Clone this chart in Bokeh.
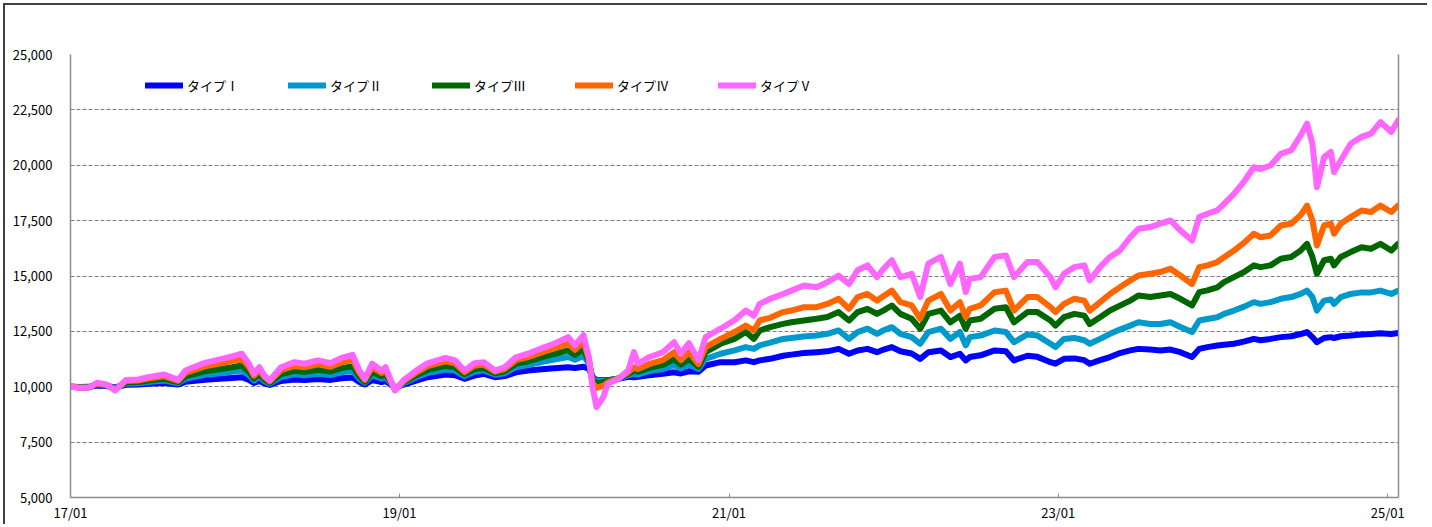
from bokeh.plotting import figure
from bokeh.models import (Range1d, LinearAxis, Legend, LegendItem, FixedTicker,
                          DatetimeTickFormatter, NumeralTickFormatter)
from bokeh.embed import file_html
from bokeh.resources import INLINE
import pandas as pd

dates = [
    "2017-01-04", "2017-01-22", "2017-02-10", "2017-03-01", "2017-03-22", "2017-04-10",
    "2017-05-04", "2017-06-01", "2017-06-22", "2017-07-28", "2017-08-28", "2017-09-13",
    "2017-10-26", "2017-11-19", "2017-12-25", "2018-01-16", "2018-02-01", "2018-02-12",
    "2018-02-24", "2018-03-07", "2018-03-19", "2018-04-13", "2018-05-13", "2018-06-04",
    "2018-07-04", "2018-08-01", "2018-08-25", "2018-09-19", "2018-10-04", "2018-10-16",
    "2018-11-01", "2018-11-22", "2018-12-01", "2018-12-22", "2019-01-10", "2019-02-07",
    "2019-03-04", "2019-04-13", "2019-05-04", "2019-05-25", "2019-06-16", "2019-07-07",
    "2019-08-01", "2019-08-22", "2019-09-16", "2019-10-13", "2019-11-19", "2019-12-10",
    "2020-01-10", "2020-01-25", "2020-02-13", "2020-02-25", "2020-03-04", "2020-03-13",
    "2020-03-28", "2020-04-07", "2020-05-01", "2020-05-22", "2020-06-04", "2020-06-13",
    "2020-07-07", "2020-08-07", "2020-09-01", "2020-09-16", "2020-10-04", "2020-10-25",
    "2020-11-10", "2020-12-13", "2021-01-13", "2021-02-07", "2021-02-25", "2021-03-10",
    "2021-04-02", "2021-05-01", "2021-05-19", "2021-06-16", "2021-07-14", "2021-08-07",
    "2021-09-01", "2021-09-24", "2021-10-13", "2021-11-04", "2021-11-25", "2021-12-10",
    "2021-12-28", "2022-01-16", "2022-02-10", "2022-03-01", "2022-03-19", "2022-04-16",
    "2022-05-07", "2022-05-28", "2022-06-10", "2022-06-19", "2022-07-13", "2022-08-13",
    "2022-09-07", "2022-09-25", "2022-10-25", "2022-11-16", "2022-12-15", "2022-12-26",
    "2023-01-14", "2023-02-06", "2023-02-28", "2023-03-12", "2023-04-04", "2023-04-26",
    "2023-05-18", "2023-06-10", "2023-06-28", "2023-07-24", "2023-08-16", "2023-09-07",
    "2023-09-29", "2023-10-25", "2023-11-10", "2023-11-28", "2023-12-20", "2024-01-04",
    "2024-01-26", "2024-02-19", "2024-03-10", "2024-03-25", "2024-04-16", "2024-05-09",
    "2024-06-01", "2024-06-22", "2024-07-06", "2024-07-18", "2024-07-28", "2024-08-13",
    "2024-08-28", "2024-09-04", "2024-09-19", "2024-10-11", "2024-11-04", "2024-11-25",
    "2024-12-16", "2025-01-09", "2025-01-24",
]

type5 = [
    10000, 9950, 9950, 10180, 10100, 9830, 10310, 10330, 10430, 10550, 10310, 10730,
    11080, 11190, 11370, 11490, 11040, 10590, 10880, 10510, 10280, 10880, 11110, 11040,
    11190, 11060, 11300, 11440, 10730, 10360, 11040, 10730, 10880, 9830, 10300, 10730,
    11060, 11300, 11190, 10730, 11060, 11110, 10730, 10880, 11330, 11490, 11790, 11940,
    12240, 11870, 12330, 11330, 9980, 9080, 9530, 10130, 10360, 10730, 11560, 11040,
    11330, 11560, 12010, 11490, 11970, 11190, 12240, 12620, 13000, 13440, 13210, 13740,
    13970, 14190, 14340, 14570, 14490, 14720, 15020, 14640, 15260, 15480, 14950, 15330,
    15710, 14950, 15100, 14050, 15560, 15860, 14640, 15560, 14270, 14870, 14950, 15860,
    15930, 14950, 15630, 15630, 14950, 14490, 15100, 15400, 15480, 14800, 15400, 15860,
    16150, 16750, 17130, 17210, 17360, 17510, 17060, 16600, 17660, 17810, 17960, 18260,
    18710, 19310, 19910, 19830, 19990, 20520, 20670, 21350, 21880, 20970, 19010, 20370,
    20600, 19690, 20220, 20970, 21280, 21430, 21950, 21500, 22020,
]

type4 = [
    10000, 9960, 9960, 10150, 10080, 9870, 10260, 10280, 10370, 10470, 10270, 10620,
    10920, 11010, 11160, 11260, 10890, 10500, 10750, 10440, 10240, 10750, 10940, 10880,
    11010, 10900, 11100, 11220, 10620, 10310, 10880, 10620, 10750, 9860, 10250, 10640,
    10930, 11150, 11060, 10660, 10950, 11000, 10680, 10800, 11200, 11340, 11600, 11730,
    11940, 11670, 12020, 11250, 10180, 9950, 10050, 10200, 10380, 10650, 10880, 10800,
    11020, 11200, 11560, 11200, 11560, 11020, 11790, 12160, 12470, 12760, 12540, 12990,
    13110, 13370, 13440, 13590, 13590, 13740, 13970, 13520, 14050, 14190, 13890, 14100,
    14340, 13820, 13670, 13070, 13890, 14190, 13440, 13820, 13140, 13520, 13670, 14270,
    14340, 13440, 14050, 14050, 13590, 13370, 13740, 13970, 13890, 13440, 13820, 14190,
    14490, 14800, 15020, 15100, 15180, 15330, 15020, 14640, 15400, 15480, 15630, 15850,
    16150, 16530, 16910, 16750, 16830, 17280, 17360, 17750, 18180, 17510, 16380, 17280,
    17360, 16910, 17360, 17660, 17960, 17890, 18180, 17890, 18180,
]

type3 = [
    10000, 9970, 9970, 10110, 10060, 9910, 10200, 10210, 10280, 10360, 10210, 10470,
    10700, 10770, 10880, 10960, 10680, 10380, 10570, 10330, 10180, 10570, 10720, 10670,
    10770, 10690, 10840, 10930, 10470, 10230, 10670, 10470, 10570, 9890, 10200, 10520,
    10760, 10940, 10880, 10560, 10800, 10850, 10610, 10700, 11030, 11150, 11370, 11470,
    11640, 11440, 11700, 11150, 10320, 10150, 10200, 10260, 10380, 10580, 10730, 10680,
    10850, 10990, 11250, 11000, 11260, 10900, 11560, 11940, 12160, 12470, 12160, 12540,
    12690, 12840, 12910, 12990, 13070, 13150, 13370, 12990, 13370, 13520, 13290, 13450,
    13670, 13290, 13070, 12620, 13290, 13440, 12910, 13210, 12620, 12990, 13070, 13520,
    13590, 12910, 13370, 13370, 12990, 12760, 13140, 13290, 13210, 12830, 13140, 13440,
    13660, 13890, 14120, 14050, 14120, 14190, 13970, 13670, 14270, 14350, 14490, 14720,
    14950, 15200, 15480, 15400, 15480, 15780, 15860, 16150, 16450, 15860, 15100, 15710,
    15780, 15480, 15860, 16080, 16300, 16230, 16450, 16150, 16450,
]

type2 = [
    10000, 9980, 9985, 10090, 10050, 9940, 10150, 10160, 10210, 10280, 10160, 10360,
    10540, 10590, 10680, 10730, 10520, 10290, 10440, 10250, 10140, 10440, 10560, 10520,
    10590, 10530, 10650, 10710, 10360, 10180, 10520, 10360, 10440, 9920, 10150, 10430,
    10620, 10780, 10730, 10480, 10680, 10740, 10540, 10610, 10880, 10980, 11150, 11230,
    11340, 11220, 11390, 11050, 10400, 10250, 10280, 10290, 10370, 10520, 10580, 10560,
    10700, 10800, 10970, 10820, 11000, 10800, 11260, 11490, 11640, 11790, 11710, 11870,
    11990, 12160, 12200, 12270, 12310, 12390, 12540, 12160, 12470, 12620, 12390, 12550,
    12690, 12390, 12240, 11940, 12470, 12620, 12160, 12470, 11870, 12240, 12310, 12540,
    12470, 12010, 12360, 12310, 11940, 11790, 12160, 12200, 12100, 11940, 12160, 12390,
    12580, 12760, 12910, 12830, 12830, 12910, 12700, 12470, 12990, 13060, 13140, 13290,
    13440, 13630, 13820, 13740, 13820, 13970, 14050, 14190, 14340, 14050, 13440, 13890,
    13940, 13740, 14050, 14190, 14260, 14260, 14340, 14190, 14340,
]

type1 = [
    10000, 9990, 9995, 10050, 10030, 9970, 10090, 10100, 10130, 10170, 10100, 10220,
    10320, 10350, 10400, 10430, 10310, 10170, 10260, 10150, 10080, 10260, 10330, 10300,
    10350, 10310, 10380, 10420, 10210, 10100, 10300, 10210, 10260, 9960, 10100, 10280,
    10430, 10550, 10520, 10360, 10500, 10580, 10430, 10480, 10650, 10730, 10800, 10840,
    10880, 10850, 10900, 10800, 10450, 10290, 10300, 10300, 10360, 10450, 10430, 10450,
    10520, 10590, 10650, 10600, 10700, 10680, 10960, 11110, 11110, 11190, 11110, 11190,
    11260, 11400, 11450, 11520, 11560, 11600, 11710, 11490, 11640, 11710, 11560, 11680,
    11790, 11600, 11500, 11260, 11560, 11640, 11340, 11490, 11190, 11340, 11420, 11640,
    11600, 11190, 11400, 11350, 11110, 11040, 11260, 11280, 11200, 11040, 11200, 11340,
    11520, 11640, 11710, 11680, 11640, 11680, 11560, 11340, 11710, 11790, 11860, 11900,
    11940, 12050, 12160, 12100, 12160, 12240, 12280, 12380, 12470, 12240, 12010, 12200,
    12240, 12200, 12280, 12310, 12360, 12380, 12420, 12380, 12430,
]

series_names = ["タイプⅠ", "タイプⅡ", "タイプⅢ", "タイプⅣ", "タイプⅤ"]
series_colors = ["#0000FF", "#0099CC", "#006600", "#FF6600", "#FF66FF"]
y_ticks = [5000, 7500, 10000, 12500, 15000, 17500, 20000, 22500, 25000]
x_tick_dates = ["2017-01-01", "2019-01-01", "2021-01-01", "2023-01-01", "2025-01-01"]

x = pd.to_datetime(dates)
series = [type1, type2, type3, type4, type5]

FONT = "Noto Sans CJK JP"

# page layout: 3px margin + 2px frame line, then the canvas
p = figure(frame_width=1328, frame_height=443, x_axis_type="datetime",
           output_backend="svg", toolbar_location=None,
           x_range=Range1d(pd.Timestamp("2017-01-01"), pd.Timestamp("2025-01-25")),
           y_range=Range1d(5000, 25000),
           min_border_left=65, min_border_right=29, min_border_top=49, min_border_bottom=25)
p.outline_line_color = None
p.background_fill_color = "white"
p.border_fill_color = "white"
p.styles = {"margin-top": "3px", "margin-left": "3px",
            "border-top": "2px solid #404040", "border-left": "2px solid #404040"}

renderers = []
for vals, col in zip(series, series_colors):
    r = p.line(x, vals, line_color=col, line_width=6, line_join="round", line_cap="round")
    renderers.append(r)

# axes
p.xaxis.ticker = FixedTicker(ticks=[pd.Timestamp(d).value / 1e6 for d in x_tick_dates])
fmt = "%y/%m"
p.xaxis.formatter = DatetimeTickFormatter(years=fmt, months=fmt, days=fmt, hours=fmt,
                                          minutes=fmt, seconds=fmt, milliseconds=fmt,
                                          microseconds=fmt, hourmin=fmt, minsec=fmt)
p.xaxis.minor_tick_line_color = None
p.xaxis.major_tick_in = 4
p.xaxis.major_tick_out = 0
p.xaxis.major_tick_line_color = "#8c8c8c"
p.xaxis.axis_line_color = "#8c8c8c"
p.xaxis.axis_line_width = 1.5
p.xaxis.major_label_standoff = 5

p.yaxis.ticker = FixedTicker(ticks=y_ticks)
p.yaxis.formatter = NumeralTickFormatter(format="0,0")
p.yaxis.minor_tick_line_color = None
p.yaxis.major_tick_line_color = None
p.yaxis.axis_line_color = "#8c8c8c"
p.yaxis.axis_line_width = 1.5
p.yaxis.major_label_standoff = 12

for ax in (p.xaxis[0], p.yaxis[0]):
    ax.major_label_text_font = FONT
    ax.major_label_text_font_size = "13px"
    ax.major_label_text_color = "#000000"

right_ax = LinearAxis(axis_line_color="#8c8c8c", axis_line_width=1.5,
                      major_tick_line_color=None, minor_tick_line_color=None,
                      major_label_text_font_size="0px", ticker=FixedTicker(ticks=[]))
p.add_layout(right_ax, "right")

p.xgrid.visible = False
p.ygrid.grid_line_color = "#808080"
p.ygrid.grid_line_dash = "4 2"
p.ygrid.grid_line_width = 1

# legend: one entry per legend, evenly spaced like the original
legend_x = [75, 218, 362, 505, 648]
for name, r, lx in zip(series_names, renderers, legend_x):
    leg = Legend(items=[LegendItem(label=name, renderers=[r])], location=(lx, 402),
                 orientation="horizontal", glyph_width=38, glyph_height=20,
                 label_standoff=4, padding=0, margin=0, spacing=0,
                 border_line_color=None, background_fill_alpha=0,
                 label_text_font=FONT, label_text_font_size="13px",
                 label_text_color="#000000")
    p.add_layout(leg, "center")

open("out.html", "w").write(file_html(p, INLINE))
